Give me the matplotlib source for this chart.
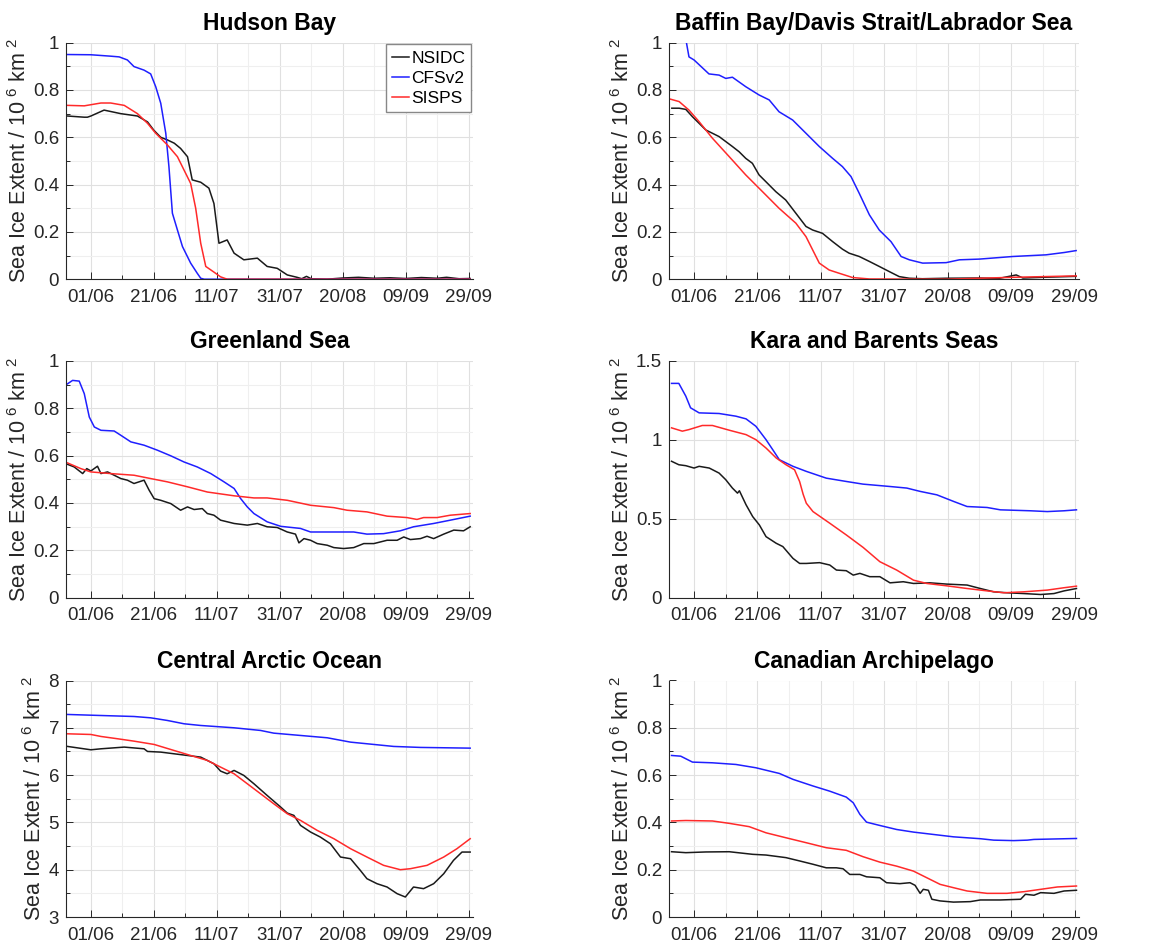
import matplotlib
matplotlib.use("Agg")
import matplotlib.pyplot as plt
from matplotlib.ticker import MultipleLocator, FixedLocator

plt.rcParams['font.family'] = ['Liberation Sans', 'DejaVu Sans']
plt.rcParams['mathtext.default'] = 'regular'

# Days counted from 01/06 (day 0)
tick_days = [0, 20, 40, 60, 80, 100, 120]
tick_labels = ['01/06', '21/06', '11/07', '31/07', '20/08', '09/09', '29/09']
series_names = ['NSIDC', 'CFSv2', 'SISPS']

# ---------------- Hudson Bay ----------------
hb_nsidc_d = [-7.4, -2.1, -1.1, 0, 4.2, 9.5, 14.8, 18, 20, 22.2, 24.3, 26.5, 28.5, 30.7, 32.2, 34.9, 37.5, 39.1,
              40.7, 43.3, 45.5, 48.6, 52.9, 56, 59.2, 62.4, 65.5, 67, 68.5, 70, 75, 80, 85, 90, 95, 100, 105,
              110, 113, 117, 120.5]
hb_nsidc_v = [0.69, 0.685, 0.685, 0.69, 0.715, 0.70, 0.69, 0.665, 0.63, 0.60, 0.589, 0.575, 0.553, 0.518, 0.42, 0.41,
              0.385, 0.32, 0.152, 0.166, 0.11, 0.082, 0.089, 0.054, 0.046, 0.018, 0.008, 0.002, 0.012, 0.002,
              0.0, 0.005, 0.008, 0.004, 0.006, 0.003, 0.007, 0.004, 0.008, 0.002, 0.003]
hb_cfs_d = [-7.4, 0, 6.3, 9.0, 11.6, 13.7, 16.9, 19, 20.6, 22.2, 23.8, 24.8, 25.9, 27.5, 29.1, 31.7, 33.8,
            34.9, 36, 120.5]
hb_cfs_v = [0.95, 0.949, 0.943, 0.94, 0.927, 0.899, 0.884, 0.868, 0.814, 0.744, 0.617, 0.476, 0.279, 0.208,
            0.138, 0.068, 0.025, 0.004, 0.0, 0.0]
hb_sis_d = [-7.4, -2.1, 3.2, 6.3, 10.6, 14.8, 18, 20.6, 24.3, 27.5, 30.1, 31.7, 33.3, 34.9, 36.5, 39.1, 41.2,
            43.3, 120.5]
hb_sis_v = [0.735, 0.733, 0.745, 0.745, 0.735, 0.70, 0.659, 0.617, 0.568, 0.518, 0.448, 0.405, 0.30, 0.152,
            0.054, 0.03, 0.01, 0.0, 0.0]

# ---------------- Baffin Bay ----------------
bb_nsidc_d = [-7, -4.7, -2.6, -0.5, 1.6, 3.7, 5.8, 7.9, 10, 12.1, 14.2, 16.3, 18.4, 20.5, 22.6, 25.8, 28.9,
              32.1, 35.3, 37.4, 40.5, 43.7, 46.8, 48.9, 52.1, 55.3, 58.4, 61.6, 64.7, 67.9, 72, 79.5, 90, 96,
              101.6, 103.7, 110, 120.5]
bb_nsidc_v = [0.723, 0.723, 0.718, 0.687, 0.659, 0.631, 0.617, 0.603, 0.582, 0.561, 0.539, 0.511, 0.49, 0.441,
              0.413, 0.37, 0.335, 0.279, 0.223, 0.208, 0.194, 0.159, 0.127, 0.11, 0.096, 0.075, 0.054, 0.032,
              0.011, 0.004, 0.002, 0.004, 0.005, 0.003, 0.018, 0.005, 0.008, 0.012]
bb_cfs_d = [-3.2, -2.4, -1.6, 0, 4.7, 7.9, 10, 12.1, 16.3, 20.5, 23.7, 26.8, 31.1, 35.3, 39.5, 43.7, 46.8, 49.5,
            52.1, 55.3, 58.4, 62.1, 65.3, 67.9, 72.1, 79.5, 83.7, 90, 100.5, 111, 116.8, 120.5]
bb_cfs_v = [1.08, 1.0, 0.94, 0.927, 0.868, 0.863, 0.849, 0.854, 0.814, 0.779, 0.758, 0.708, 0.673, 0.617,
            0.561, 0.511, 0.476, 0.434, 0.363, 0.272, 0.208, 0.159, 0.096, 0.082, 0.068, 0.07, 0.082, 0.085,
            0.096, 0.103, 0.113, 0.121]
bb_sis_d = [-7.9, -4.7, -1.6, 1.6, 5.8, 11.1, 16.3, 21.6, 26.8, 32.1, 35.3, 37.4, 39.5, 42.6, 45.8, 50, 55.3,
            79.5, 100.5, 120.5]
bb_sis_v = [0.763, 0.751, 0.715, 0.666, 0.596, 0.518, 0.441, 0.370, 0.30, 0.237, 0.18, 0.124, 0.068, 0.039,
            0.025, 0.007, 0.001, 0.0, 0.008, 0.014]

# ---------------- Greenland Sea ----------------
gs_nsidc_d = [-7.4, -5.3, -2.6, -1.3, 0, 2.1, 3.2, 5.3, 7.4, 9.5, 11.6, 13.7, 16.9, 18.5, 20.1, 22.2, 25.4,
              28.5, 30.7, 32.8, 35.4, 37, 39.1, 41.2, 45.5, 49.7, 52.9, 56, 59.2, 62.4, 65, 66.1, 67.7, 69.8,
              71.9, 75.1, 77.2, 80.3, 83.5, 86.7, 89.9, 94.1, 97.3, 99.4, 101.5, 104.7, 106.8, 108.9, 112.1,
              115.3, 118.4, 120.5]
gs_nsidc_v = [0.563, 0.552, 0.524, 0.545, 0.535, 0.555, 0.524, 0.531, 0.517, 0.503, 0.496, 0.482, 0.496,
              0.454, 0.418, 0.411, 0.397, 0.369, 0.383, 0.372, 0.376, 0.355, 0.348, 0.327, 0.313, 0.306, 0.313,
              0.299, 0.296, 0.277, 0.268, 0.231, 0.249, 0.242, 0.228, 0.221, 0.211, 0.207, 0.211, 0.228, 0.228,
              0.242, 0.242, 0.256, 0.245, 0.249, 0.259, 0.249, 0.268, 0.285, 0.282, 0.299]
gs_cfs_d = [-7.7, -5.8, -3.7, -2.1, -0.5, 1.1, 3.2, 7.4, 9.5, 12.7, 16.9, 21.1, 25.4, 29.6, 33.8, 38.1, 42.3,
            45.5, 47.6, 49.7, 51.8, 56, 60.3, 66.6, 69.8, 77.2, 83.5, 87.7, 93, 98.3, 102.5, 108.9, 114.2, 120.5]
gs_cfs_v = [0.901, 0.918, 0.915, 0.862, 0.763, 0.721, 0.707, 0.704, 0.686, 0.658, 0.644, 0.623, 0.599, 0.573,
            0.552, 0.524, 0.489, 0.461, 0.418, 0.383, 0.355, 0.32, 0.301, 0.292, 0.277, 0.277, 0.277, 0.268,
            0.27, 0.282, 0.299, 0.313, 0.327, 0.344]
gs_sis_d = [-7.4, -3.2, 0, 6.3, 13.7, 20.1, 24.3, 30.7, 37, 45.5, 51.8, 56, 62.4, 69.8, 77.2, 81.4, 87.7,
            94.1, 100.4, 103.6, 105.7, 110, 114.2, 120.5]
gs_sis_v = [0.569, 0.545, 0.531, 0.524, 0.517, 0.50, 0.489, 0.468, 0.446, 0.43, 0.421, 0.421, 0.411, 0.39,
            0.38, 0.369, 0.362, 0.344, 0.338, 0.33, 0.338, 0.338, 0.348, 0.355]

# ---------------- Kara and Barents Seas ----------------
kb_nsidc_d = [-7.1, -4.8, -2.6, 0, 1.6, 4.8, 7.9, 10, 12.1, 13.7, 14.3, 16.4, 18.5, 20.6, 22.7, 25.9, 28, 31.2,
              33.3, 35.4, 39.6, 42.8, 44.9, 48, 50.2, 52.3, 55.4, 58.6, 61.8, 66, 69.2, 74.4, 79.7, 86.1, 90.3,
              94.5, 98.7, 104, 109.3, 113.5, 116.7, 120.6]
kb_nsidc_v = [0.864, 0.842, 0.836, 0.821, 0.832, 0.821, 0.789, 0.747, 0.694, 0.662, 0.677, 0.588, 0.513, 0.46,
              0.386, 0.344, 0.323, 0.248, 0.216, 0.216, 0.221, 0.206, 0.174, 0.17, 0.142, 0.153, 0.132, 0.132,
              0.093, 0.1, 0.089, 0.093, 0.085, 0.079, 0.057, 0.036, 0.03, 0.025, 0.019, 0.025, 0.042, 0.057]
kb_cfs_d = [-7.1, -4.8, -2.6, -1.1, 1.6, 7.9, 13.2, 16.4, 19.5, 22.7, 24.8, 26.9, 31.2, 35.4, 41.7, 48, 53.3,
            61.8, 67.1, 71.3, 76.6, 81.9, 86.1, 92.4, 96.6, 106.1, 111.4, 116.7, 120.6]
kb_cfs_v = [1.358, 1.358, 1.277, 1.203, 1.171, 1.167, 1.15, 1.133, 1.086, 1.001, 0.938, 0.874, 0.832, 0.8,
            0.757, 0.736, 0.719, 0.704, 0.694, 0.673, 0.651, 0.609, 0.577, 0.571, 0.556, 0.55, 0.545, 0.55,
            0.556]
kb_sis_d = [-7.1, -3.7, -1.6, 2.6, 5.8, 11.1, 16.4, 19.5, 22.7, 25.9, 29, 31.7, 33.3, 34.4, 35.4, 37.5, 42.8, 48,
            53.3, 58.6, 63.9, 69.2, 73.4, 79.7, 86.1, 92.4, 97.7, 104, 111.4, 116.7, 120.6]
kb_sis_v = [1.076, 1.055, 1.065, 1.091, 1.091, 1.061, 1.033, 1.001, 0.948, 0.885, 0.842, 0.81, 0.735, 0.655, 0.598,
            0.545, 0.471, 0.397, 0.318, 0.227, 0.174, 0.11, 0.089, 0.074, 0.057, 0.042, 0.03, 0.036, 0.047,
            0.062, 0.072]

# ---------------- Central Arctic Ocean ----------------
ca_nsidc_d = [-7.4, 0, 3.2, 10.6, 16.9, 18, 22.2, 26.4, 30.7, 34.9, 39.1, 41.2, 43.3, 45.5, 48.6, 51.8, 56,
              60.3, 62.4, 64.5, 66.6, 69.8, 72.9, 76.1, 79.3, 82.5, 85.6, 87.7, 90.9, 94.1, 97.3, 99.9, 102.5,
              105.7, 108.9, 112.1, 115.2, 117.9, 120.5]
ca_nsidc_v = [6.606, 6.535, 6.556, 6.592, 6.556, 6.5, 6.486, 6.451, 6.415, 6.38, 6.239, 6.085, 6.028, 6.099,
              5.993, 5.817, 5.57, 5.324, 5.197, 5.148, 4.937, 4.796, 4.69, 4.549, 4.268, 4.232, 3.986, 3.81,
              3.704, 3.634, 3.493, 3.423, 3.634, 3.599, 3.704, 3.915, 4.197, 4.373, 4.373]
ca_cfs_d = [-7.4, 3.2, 13.7, 19, 24.3, 29.6, 34.9, 45.5, 53.9, 58.1, 66.6, 75.1, 82.5, 89.9, 96.2, 104.7, 120.5]
ca_cfs_v = [7.282, 7.26, 7.239, 7.211, 7.155, 7.085, 7.049, 7.0, 6.944, 6.887, 6.838, 6.789, 6.697, 6.648,
            6.606, 6.585, 6.57]
ca_sis_d = [-7.4, 0, 3.2, 8.5, 13.7, 20.1, 26.4, 31.7, 37, 41.2, 45.5, 49.7, 53.9, 58.1, 62.4, 66.6, 71.9,
            77.2, 82.5, 87.7, 93, 98.3, 101.5, 106.8, 112.1, 116.3, 120.5]
ca_sis_v = [6.873, 6.859, 6.817, 6.768, 6.718, 6.648, 6.521, 6.415, 6.31, 6.169, 6.028, 5.817, 5.606, 5.394,
            5.183, 5.042, 4.831, 4.655, 4.444, 4.268, 4.092, 4.0, 4.021, 4.092, 4.268, 4.444, 4.655]

# ---------------- Canadian Archipelago ----------------
cn_nsidc_d = [-7.1, -2.6, 3.7, 11.1, 18.5, 22.7, 29, 33.3, 37.5, 41.7, 44.9, 47, 49.1, 52.3, 54.4, 58.6, 60.7,
              64.9, 68.1, 69.7, 71.3, 72.3, 73.9, 75, 77.6, 81.8, 87.1, 90.3, 96.6, 103, 104.5, 107.2, 109.3,
              113.5, 116.7, 120.6]
cn_nsidc_v = [0.276, 0.272, 0.275, 0.276, 0.265, 0.262, 0.251, 0.237, 0.223, 0.208, 0.208, 0.204, 0.18, 0.18,
              0.17, 0.166, 0.145, 0.141, 0.145, 0.134, 0.1, 0.117, 0.113, 0.075, 0.068, 0.063, 0.065, 0.072,
              0.072, 0.075, 0.096, 0.092, 0.103, 0.1, 0.11, 0.113]
cn_cfs_d = [-7.1, -4.2, -0.5, 5.8, 13.2, 19.5, 23.8, 26.9, 31.2, 37.5, 42.8, 48, 50.2, 52.3, 54.4, 58.6, 63.9,
            69.2, 75.5, 81.8, 90.3, 94.5, 100.8, 105.1, 107.2, 120.6]
cn_cfs_v = [0.683, 0.68, 0.655, 0.652, 0.645, 0.631, 0.617, 0.607, 0.582, 0.554, 0.532, 0.507, 0.483, 0.434,
            0.401, 0.387, 0.37, 0.359, 0.349, 0.339, 0.331, 0.325, 0.323, 0.325, 0.328, 0.332]
cn_sis_d = [-7.1, -2.6, 5.8, 11.1, 17.4, 22.7, 29, 35.4, 41.7, 48, 53.3, 58.6, 63.9, 69.2, 73.4, 77.6, 81.8,
            86.1, 92.4, 98.7, 104, 109.3, 114.6, 120.6]
cn_sis_v = [0.406, 0.408, 0.406, 0.396, 0.382, 0.356, 0.335, 0.314, 0.293, 0.282, 0.255, 0.232, 0.215, 0.194,
            0.166, 0.138, 0.124, 0.11, 0.1, 0.1, 0.107, 0.117, 0.127, 0.131]

panels = [
    ('Hudson Bay', (hb_nsidc_d, hb_nsidc_v), (hb_cfs_d, hb_cfs_v), (hb_sis_d, hb_sis_v), (0, 1), 0.2, 0.1),
    ('Baffin Bay/Davis Strait/Labrador Sea', (bb_nsidc_d, bb_nsidc_v), (bb_cfs_d, bb_cfs_v), (bb_sis_d, bb_sis_v), (0, 1), 0.2, 0.1),
    ('Greenland Sea', (gs_nsidc_d, gs_nsidc_v), (gs_cfs_d, gs_cfs_v), (gs_sis_d, gs_sis_v), (0, 1), 0.2, 0.1),
    ('Kara and Barents Seas', (kb_nsidc_d, kb_nsidc_v), (kb_cfs_d, kb_cfs_v), (kb_sis_d, kb_sis_v), (0, 1.5), 0.5, None),
    ('Central Arctic Ocean', (ca_nsidc_d, ca_nsidc_v), (ca_cfs_d, ca_cfs_v), (ca_sis_d, ca_sis_v), (3, 8), 1, 0.5),
    ('Canadian Archipelago', (cn_nsidc_d, cn_nsidc_v), (cn_cfs_d, cn_cfs_v), (cn_sis_d, cn_sis_v), (0, 1), 0.2, 0.1),
]

colors = ['#1a1a1a', '#1f1fff', '#ff2a2a']

W, H = 1168, 944
fig = plt.figure(figsize=(W / 100, H / 100), dpi=100)
col_left = [66, 669]
col_width = [407, 410]
row_top = [42.7, 361, 680.5]
ax_h = 236.5

for i, (title, nsidc, cfs, sis, ylim, ymaj, ymin) in enumerate(panels):
    r, c = divmod(i, 2)
    ax = fig.add_axes([col_left[c] / W, 1 - (row_top[r] + ax_h) / H, col_width[c] / W, ax_h / H])
    for (d, v), col, name in zip([nsidc, cfs, sis], colors, series_names):
        ax.plot(d, v, color=col, lw=1.1, label=name)
    ax.set_xlim(-7.9, 121.4)
    ax.set_ylim(*ylim)
    ax.xaxis.set_major_locator(FixedLocator(tick_days))
    ax.set_xticklabels(tick_labels)
    ax.xaxis.set_minor_locator(MultipleLocator(10))
    ax.yaxis.set_major_locator(MultipleLocator(ymaj))
    if ymin:
        ax.yaxis.set_minor_locator(MultipleLocator(ymin))
    ax.yaxis.set_major_formatter(plt.FuncFormatter(lambda v, p: ('%g' % round(v, 3))))
    ax.grid(True, which='major', color='#e0e0e0', lw=0.8)
    if ymin:
        ax.grid(True, which='minor', color='#efefef', lw=0.8)
    else:
        ax.grid(True, which='minor', axis='x', color='#efefef', lw=0.8)
    ax.set_axisbelow(True)
    for s in ['top', 'right']:
        ax.spines[s].set_visible(False)
    for s in ['left', 'bottom']:
        ax.spines[s].set_color('#262626')
        ax.spines[s].set_linewidth(0.8)
    ax.tick_params(which='both', direction='in', colors='#262626', labelsize=13.5, width=0.7)
    ax.tick_params(which='major', length=5)
    ax.tick_params(which='minor', length=3)
    ax.tick_params(axis='x', pad=7)
    ax.tick_params(axis='y', pad=5)
    ax.set_ylabel('Sea Ice Extent / 10$^{\\ 6}$ km$^{\\ 2}$', fontsize=15.5, color='#262626', labelpad=1.5)
    ax.set_title(title, fontsize=16.5, fontweight='bold', pad=9)
    if i == 0:
        leg = ax.legend(loc='upper right', fontsize=12.5, handlelength=1.0, handletextpad=0.1,
                        borderaxespad=0.1, borderpad=0.35, labelspacing=0.3, fancybox=False, framealpha=1)
        leg.get_frame().set_edgecolor('#888888')
        leg.get_frame().set_linewidth(1.0)

fig.savefig('out.png', dpi=100)
